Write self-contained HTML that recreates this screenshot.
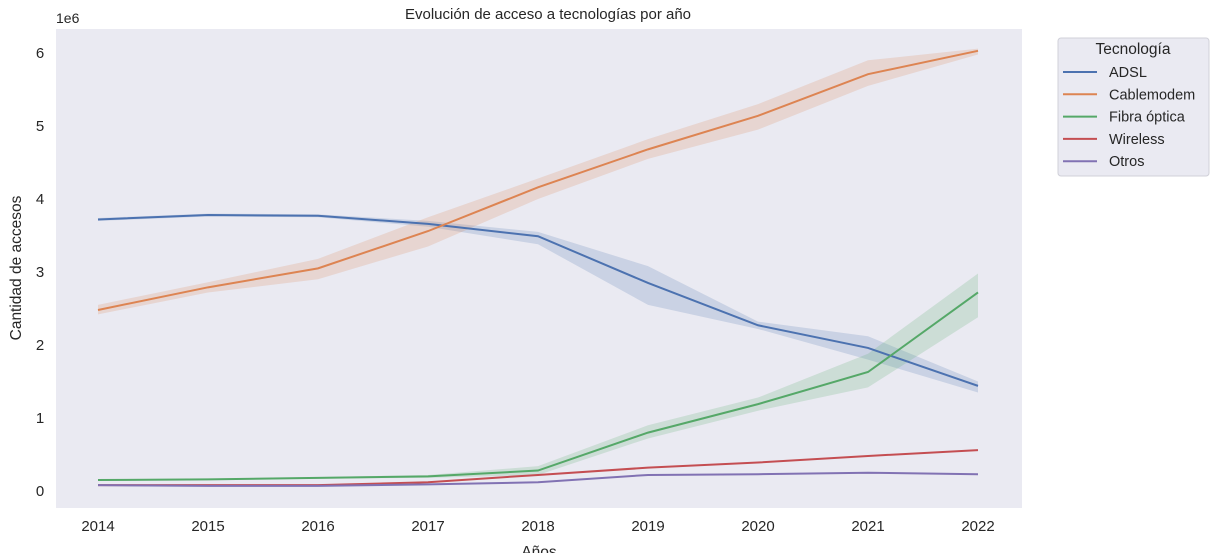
<!DOCTYPE html>
<html><head><meta charset="utf-8"><style>
body{margin:0;background:#fff;font-family:"Liberation Sans",Arial,sans-serif;overflow:hidden;}
svg text{font-family:"Liberation Sans",Arial,sans-serif;fill:#262626;}
</style></head><body>
<svg id="chart" width="1210" height="553">
<rect x="56" y="29" width="966" height="479" fill="#eaeaf2"/>
<g id="bands"></g><g id="lines"></g><g id="ticks"></g>
<text x="548" y="19" font-size="15" text-anchor="middle">Evolución de acceso a tecnologías por año</text>
<text x="56" y="23" font-size="14">1e6</text>
<text x="539" y="557" font-size="15.5" text-anchor="middle">Años</text>
<text x="21" y="268" font-size="15.5" text-anchor="middle" transform="rotate(-90 21 268)">Cantidad de accesos</text>
<g>
<rect x="1058" y="38" width="151" height="138" rx="3" fill="#eaeaf2" stroke="#d0d0d8"/>
<text x="1133" y="54" font-size="15.5" text-anchor="middle">Tecnología</text>
<g id="legend-items"></g>
</g>
</svg>
<script>
const years=[2014,2015,2016,2017,2018,2019,2020,2021,2022];
const names=["ADSL","Cablemodem","Fibra óptica","Wireless","Otros"];
const colors=["#4c72b0","#dd8452","#55a868","#c44e52","#8172b3"];
const adsl=[3.72,3.78,3.77,3.66,3.49,2.85,2.27,1.96,1.44];
const adslLo=[3.70,3.76,3.75,3.62,3.38,2.55,2.22,1.80,1.35];
const adslHi=[3.74,3.80,3.79,3.70,3.55,3.08,2.32,2.12,1.50];
const cable=[2.48,2.79,3.05,3.56,4.16,4.68,5.14,5.71,6.03];
const cableLo=[2.42,2.72,2.90,3.35,4.00,4.55,4.95,5.55,5.98];
const cableHi=[2.55,2.86,3.18,3.75,4.28,4.82,5.30,5.90,6.06];
const fibra=[0.15,0.16,0.18,0.20,0.28,0.80,1.19,1.63,2.72];
const fibraLo=[0.14,0.15,0.17,0.18,0.22,0.72,1.10,1.42,2.38];
const fibraHi=[0.16,0.17,0.19,0.22,0.34,0.90,1.28,1.88,2.98];
const wireless=[0.08,0.08,0.08,0.12,0.22,0.32,0.39,0.48,0.56];
const otros=[0.08,0.07,0.07,0.09,0.12,0.22,0.23,0.25,0.23];
const yTicks=[0,1,2,3,4,5,6];
const series=[adsl,cable,fibra,wireless,otros];
const bandsLo=[adslLo,cableLo,fibraLo,null,null];
const bandsHi=[adslHi,cableHi,fibraHi,null,null];
const NS="http://www.w3.org/2000/svg";
const xs=y=>98+(y-2014)*110;
const ys=v=>491-v*73;
function mk(t,a,p){const e=document.createElementNS(NS,t);for(const k in a)e.setAttribute(k,a[k]);p.appendChild(e);return e;}
const T=document.getElementById('ticks');
yTicks.forEach(v=>{const t=mk('text',{x:40,y:ys(v)+5,'font-size':15,'text-anchor':'middle'},T);t.textContent=v;

});
years.forEach(y=>{const t=mk('text',{x:xs(y),y:531,'font-size':15,'text-anchor':'middle'},T);t.textContent=y;

});
const B=document.getElementById('bands'),L=document.getElementById('lines');
series.forEach((s,i)=>{
 if(bandsLo[i]){const pts=years.map((y,j)=>xs(y)+','+ys(bandsHi[i][j])).concat(years.map((y,j)=>xs(y)+','+ys(bandsLo[i][j])).reverse());
  const p=mk('polygon',{points:pts.join(' '),fill:colors[i],'fill-opacity':0.2},B);
  
  }
 const l=mk('polyline',{points:years.map((y,j)=>xs(y)+','+ys(s[j])).join(' '),fill:'none',stroke:colors[i],'stroke-width':2},L);
 
 
});
const LG=document.getElementById('legend-items');
names.forEach((n,i)=>{const y=72+i*22.3;
 const g=mk('g',{},LG);
 
 
 mk('line',{x1:1063,x2:1097,y1:y,y2:y,stroke:colors[i],'stroke-width':2},g);
 const t=mk('text',{x:1109,y:y+5,'font-size':14.5},g);t.textContent=n;});
</script>
</body></html>
